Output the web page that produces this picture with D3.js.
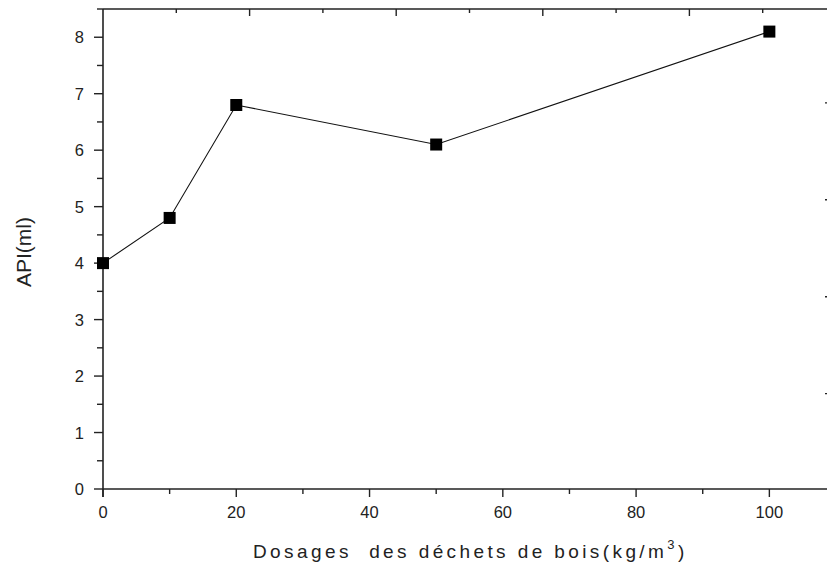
<!DOCTYPE html>
<html>
<head>
<meta charset="utf-8">
<script src="https://cdn.jsdelivr.net/npm/d3@7"></script>
<style>
  body { margin: 0; background: #fff; overflow: hidden; }
  .tick-label { font: 16.5px "Liberation Sans", Arial, sans-serif; fill: #222; }
  .axis-line { stroke: #222; stroke-width: 1.6; fill: none; }
  .tick { stroke: #222; stroke-width: 1.4; }
</style>
</head>
<body>
<svg id="chart" width="827" height="565"></svg>
<script>
// data
var dosage = [0, 10, 20, 50, 100];
var api = [4.0, 4.8, 6.8, 6.1, 8.1];
var xTicks = d3.range(0, 111, 10);       // labelled every 20
var yTicks = d3.range(0, 8.51, 0.5);     // labelled every 1
var topTicks = d3.range(0, 111, 10);
var rightTicks = [1, 2, 3, 4];

var svg = d3.select("#chart");

var pLeft = 103, pRight = 836, pTop = 9, pBottom = 489;

var x = d3.scaleLinear().domain([0, 110]).range([pLeft, pRight]);
var y = d3.scaleLinear().domain([0, 8.5]).range([pBottom, pTop]);
// the frame's top/right axes use a different spacing in the original
var xTop = d3.scaleLinear().domain([0, 110]).range([pLeft, pLeft + 806.3]);
var yRight = d3.scaleLinear().domain([0, 6]).range([490.5, 490.5 - 96.9 * 6]);

// frame lines
svg.append("line").attr("class", "axis-line")
  .attr("x1", pLeft).attr("x2", 827).attr("y1", pBottom).attr("y2", pBottom);
svg.append("line").attr("class", "axis-line")
  .attr("x1", pLeft).attr("x2", 827).attr("y1", pTop).attr("y2", pTop);
svg.append("line").attr("class", "axis-line")
  .attr("x1", pLeft).attr("x2", pLeft).attr("y1", pTop).attr("y2", pBottom + 8);

// bottom ticks (outward)
svg.selectAll(".xt").data(xTicks).enter().append("line")
  .attr("class", "tick")
  .attr("x1", d => x(d)).attr("x2", d => x(d))
  .attr("y1", pBottom).attr("y2", d => pBottom + (d % 20 === 0 ? 8 : 5));
svg.selectAll(".xl").data(xTicks.filter(d => d % 20 === 0)).enter().append("text")
  .attr("class", "tick-label")
  .attr("x", d => x(d)).attr("y", 518)
  .attr("text-anchor", "middle")
  .text(d => d);

// left ticks (outward)
svg.selectAll(".yt").data(yTicks).enter().append("line")
  .attr("class", "tick")
  .attr("y1", d => y(d)).attr("y2", d => y(d))
  .attr("x1", pLeft).attr("x2", d => pLeft - (Number.isInteger(d) ? 9 : 6));
svg.selectAll(".yl").data(yTicks.filter(d => Number.isInteger(d))).enter().append("text")
  .attr("class", "tick-label")
  .attr("x", 84).attr("y", d => y(d) + 6)
  .attr("text-anchor", "end")
  .text(d => d);

// top ticks (inward)
svg.selectAll(".tt").data(topTicks.filter(d => d > 0)).enter().append("line")
  .attr("class", "tick")
  .attr("x1", d => xTop(d)).attr("x2", d => xTop(d))
  .attr("y1", pTop).attr("y2", d => pTop + (d % 20 === 0 ? 7 : 4));

// right ticks, only their ends show at the cropped edge
svg.selectAll(".rt").data(rightTicks).enter().append("line")
  .attr("class", "tick")
  .attr("x1", 825).attr("x2", 830)
  .attr("y1", d => yRight(d)).attr("y2", d => yRight(d));

// series
var pts = dosage.map((d, i) => [d, api[i]]);
svg.append("path")
  .datum(pts)
  .attr("fill", "none")
  .attr("stroke", "#111")
  .attr("stroke-width", 1.1)
  .attr("d", d3.line().x(d => x(d[0])).y(d => y(d[1])));

svg.selectAll(".pt").data(pts).enter().append("rect")
  .attr("x", d => x(d[0]) - 6).attr("y", d => y(d[1]) - 6)
  .attr("width", 12).attr("height", 12)
  .attr("fill", "#000");

// axis titles
svg.append("text")
  .attr("transform", "translate(31,252) rotate(-90)")
  .attr("text-anchor", "middle")
  .style("font", "21px 'Liberation Sans', Arial, sans-serif")
  .style("fill", "#222")
  .text("API(ml)");

var xt = svg.append("text")
  .attr("x", 253).attr("y", 558)
  .style("font", "19px 'Liberation Sans', Arial, sans-serif")
  .style("letter-spacing", "3.4px")
  .style("white-space", "pre")
  .style("fill", "#222");
xt.append("tspan").text("Dosages  des déchets de bois(kg/m");
xt.append("tspan").attr("dy", -9).style("font-size", "13px").text("3");
xt.append("tspan").attr("dy", 9).text(")");
</script>
</body>
</html>
